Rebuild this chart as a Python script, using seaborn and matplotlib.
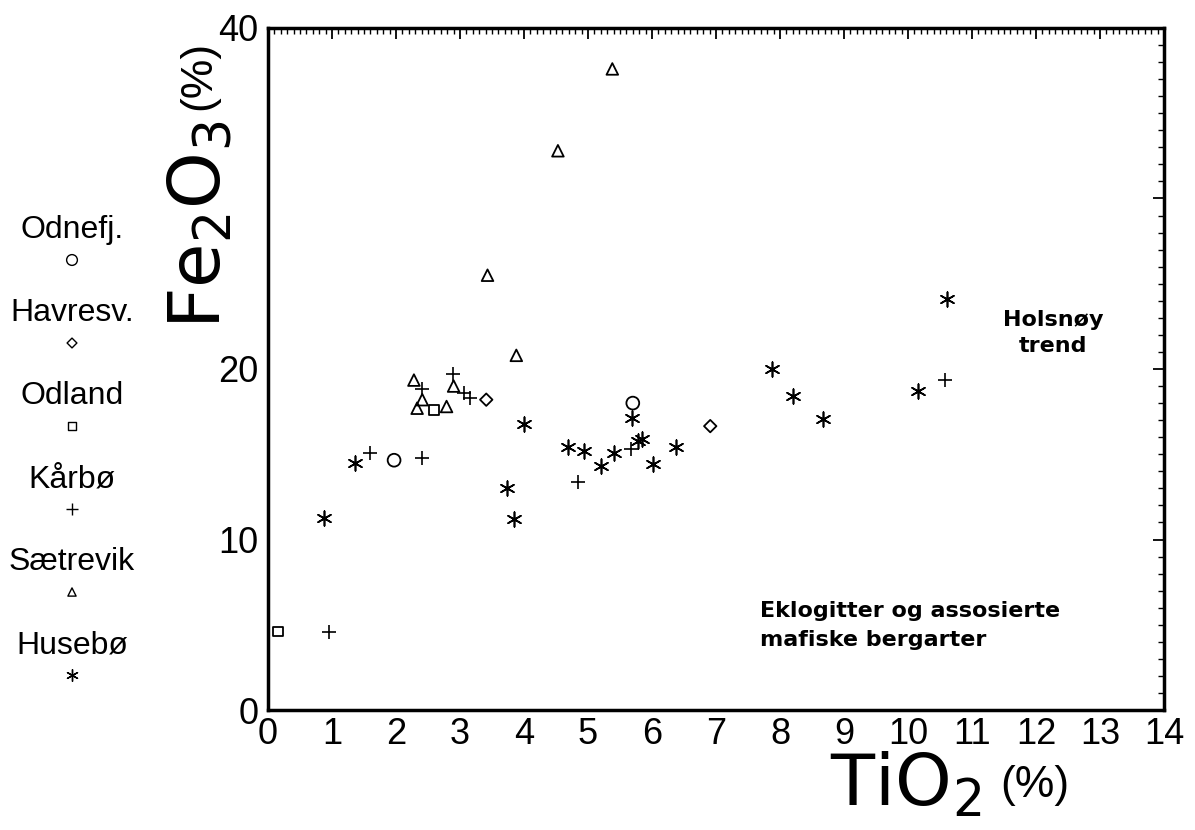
import matplotlib
matplotlib.use('Agg')
import matplotlib.pyplot as plt
from matplotlib.ticker import MultipleLocator, FixedLocator
import pandas as pd
import seaborn as sns

# TiO2 and Fe2O3 (%), one pair of lists per locality
odnefj_ti = [1.97, 5.70]
odnefj_fe = [14.65, 18.0]
havresv_ti = [3.41, 6.91]
havresv_fe = [18.2, 16.65]
odland_ti = [0.16, 2.59]
odland_fe = [4.6, 17.6]
karbo_ti = [0.96, 1.59, 2.40, 2.41, 2.89, 3.06, 3.16, 4.85, 5.67, 10.58]
karbo_fe = [4.6, 15.1, 14.8, 18.8, 19.7, 18.6, 18.3, 13.35, 15.3, 19.35]
saetrevik_ti = [2.28, 2.33, 2.41, 2.79, 2.90, 3.43, 3.88, 4.53, 5.38]
saetrevik_fe = [19.35, 17.7, 18.2, 17.8, 19.0, 25.5, 20.8, 32.8, 37.6]
husebo_ti = [0.875, 1.36, 3.73, 3.84, 4.0, 4.69, 4.93, 5.20, 5.40, 5.68,
             5.78, 5.84, 6.02, 6.38, 7.87, 8.21, 8.67, 10.16, 10.61]
husebo_fe = [11.25, 14.5, 13.0, 11.2, 16.75, 15.4, 15.2, 14.3, 15.1, 17.1,
             15.8, 15.9, 14.4, 15.45, 19.98, 18.4, 17.05, 18.7, 24.1]

localities = ['Odnefj.', 'Havresv.', 'Odland', 'Kårbø', 'Sætrevik', 'Husebø']
ti_vals = [odnefj_ti, havresv_ti, odland_ti, karbo_ti, saetrevik_ti, husebo_ti]
fe_vals = [odnefj_fe, havresv_fe, odland_fe, karbo_fe, saetrevik_fe, husebo_fe]

y_ticks = [0, 10, 20, 30, 40]
y_ticklabels = ['0', '10', '20', '', '40']

frames = []
for name, ti, fe in zip(localities, ti_vals, fe_vals):
    frames.append(pd.DataFrame({'TiO2': ti, 'Fe2O3': fe, 'lok': name}))
df = pd.concat(frames, ignore_index=True)

# marker, size (plot), size (key), outline marker?
sym = {
    'Odnefj.': ('o', 85, 60, True),
    'Havresv.': ('D', 40, 25, True),
    'Odland': ('s', 48, 30, True),
    'Kårbø': ('+', 110, 70, False),
    'Sætrevik': ('^', 70, 35, True),
    'Husebø': ((6, 2, 0), 110, 70, False),
}

sns.set_style('white')
plt.rcParams['font.family'] = ['Liberation Sans', 'DejaVu Sans']
for k in ['text.color', 'axes.labelcolor', 'xtick.color', 'ytick.color']:
    plt.rcParams[k] = 'black'

fig = plt.figure(figsize=(11.95, 8.3), dpi=100)
ax = fig.add_axes([268 / 1195, 1 - 710 / 830, 896 / 1195, 682 / 830])

for name in localities:
    m, s, _, filled = sym[name]
    sub = df[df.lok == name]
    if filled:
        sns.scatterplot(data=sub, x='TiO2', y='Fe2O3', marker=m, s=s,
                        facecolors='none', edgecolors='black', linewidth=1.3, ax=ax)
    else:
        sns.scatterplot(data=sub, x='TiO2', y='Fe2O3', marker=m, s=s,
                        color='black', linewidth=1.2, ax=ax)

ax.set_xlim(0, 14)
ax.set_ylim(0, 40)
ax.xaxis.set_major_locator(MultipleLocator(1))
ax.xaxis.set_minor_locator(MultipleLocator(0.1))
ax.yaxis.set_major_locator(FixedLocator(y_ticks))
ax.yaxis.set_minor_locator(MultipleLocator(1))
ax.set_yticklabels(y_ticklabels)
ax.tick_params(which='both', direction='in', top=True, right=True)
ax.tick_params(which='major', length=8, width=1.3, labelsize=26)
ax.tick_params(which='minor', length=4, width=1.0)
ax.tick_params(axis='x', which='major', pad=5)
ax.tick_params(axis='y', which='major', pad=7)
for sp in ax.spines.values():
    sp.set_linewidth(2.5)
    sp.set_color('black')

# axis titles: formula in a heavy face, the unit thin and smaller
ax.set_xlabel('TiO$_2$', fontsize=52, family='DejaVu Sans')
ax.xaxis.set_label_coords(0.712, -0.06)
ax.text(0.856, -0.11, '(%)', transform=ax.transAxes, ha='center', va='center',
        fontsize=32)
ax.set_ylabel('Fe$_2$O$_3$', fontsize=52, family='DejaVu Sans')
ax.yaxis.set_label_coords(-0.037, 0.711)
ax.text(-0.077, 0.93, '(%)', transform=ax.transAxes, rotation=90,
        ha='center', va='center', fontsize=32)

ax.text(12.27, 22.1, 'Holsnøy\ntrend', ha='center', va='center', fontsize=16,
        fontweight='bold', family='DejaVu Sans', linespacing=1.4)
ax.text(7.69, 4.95, 'Eklogitter og assosierte\nmafiske bergarter', ha='left',
        va='center', fontsize=16, fontweight='bold', family='DejaVu Sans',
        linespacing=1.6)

# key on the left: name above its symbol
key = fig.add_axes([0, 0, 150 / 1195, 1])
key.set_xlim(0, 150)
key.set_ylim(830, 0)
key.axis('off')
for i, name in enumerate(localities):
    m, _, s, filled = sym[name]
    ty = 230 + 83 * i
    key.text(72, ty, name, ha='center', va='center', fontsize=23)
    if filled:
        key.scatter([72], [ty + 30], marker=m, s=s, facecolors='none',
                    edgecolors='black', linewidth=1.0)
    else:
        key.scatter([72], [ty + 30], marker=m, s=s, color='black', linewidth=1.0)

fig.savefig('out.png', dpi=100)
